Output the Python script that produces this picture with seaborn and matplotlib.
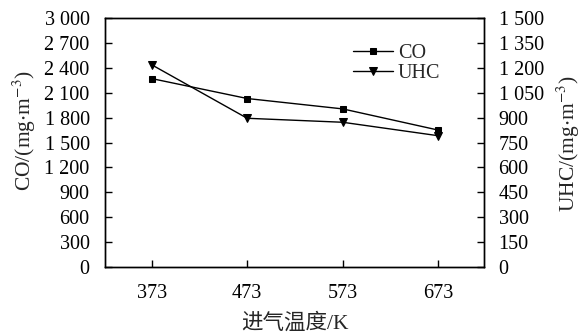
import matplotlib
matplotlib.use("Agg")
import matplotlib.pyplot as plt
import seaborn as sns
import pandas as pd
from matplotlib.ticker import FuncFormatter

temps = [373, 473, 573, 673]
co_vals = [2270, 2030, 1905, 1650]
uhc_vals = [1218, 896, 872, 791]
co_ticks = [0, 300, 600, 900, 1200, 1500, 1800, 2100, 2400, 2700, 3000]
uhc_ticks = [0, 150, 300, 450, 600, 750, 900, 1050, 1200, 1350, 1500]

sns.set_style("ticks")
plt.rcParams['font.family'] = ['Liberation Serif', 'Noto Sans CJK SC']
plt.rcParams['mathtext.fontset'] = 'stix'
plt.rcParams['axes.unicode_minus'] = False

df = pd.DataFrame({"T": temps, "CO": co_vals, "UHC": uhc_vals})

fig = plt.figure(figsize=(5.81, 3.33), dpi=100)
ax = fig.add_axes([0.1807, 0.198, 0.6523, 0.748])
ax2 = ax.twinx()

sns.lineplot(data=df, x="T", y="CO", ax=ax, color="black", marker="s",
             markersize=4.2, linewidth=1, markeredgecolor="black", label="CO", legend=False)
sns.lineplot(data=df, x="T", y="UHC", ax=ax2, color="black", marker="v",
             markersize=5.5, linewidth=1, markeredgecolor="black", label="UHC", legend=False)

fmt = FuncFormatter(lambda v, p: f"{int(v):,}".replace(",", " "))
ax.set_xlim(324, 721)
ax.set_ylim(0, 3000)
ax2.set_ylim(0, 1500)
ax.set_xticks(temps)
ax.set_yticks(co_ticks)
ax2.set_yticks(uhc_ticks)
ax.yaxis.set_major_formatter(fmt)
ax2.yaxis.set_major_formatter(fmt)

fs = 14.5
lfs = 15.5
for a in (ax, ax2):
    a.tick_params(direction="in", length=5, width=1, labelsize=fs, colors="black")
    for s in a.spines.values():
        s.set_linewidth(1)
        s.set_color("black")
ax.tick_params(axis="x", pad=12)
ax.tick_params(axis="y", pad=11)
ax2.tick_params(axis="y", pad=10.5)

ax.set_xlabel("进气温度/K", fontsize=lfs)
ax.set_ylabel("CO/(mg$\\cdot$m$^{-3}$)", fontsize=lfs)
ax2.set_ylabel("UHC/(mg$\\cdot$m$^{-3}$)", fontsize=lfs)
ax.xaxis.set_label_coords(0.5, -0.185)
ax.yaxis.set_label_coords(-0.177, 0.546)
ax2.yaxis.set_label_coords(1.187, 0.494)

h1 = ax.get_lines()[0]
h2 = ax2.get_lines()[0]
ax.legend([h1, h2], ["CO", "UHC"], loc="upper left", bbox_to_anchor=(0.632, 0.93),
          frameon=False, fontsize=14.5, handlelength=2.0, handletextpad=0.25,
          labelspacing=0.05, borderaxespad=0)

fig.savefig("out.png", dpi=100)
